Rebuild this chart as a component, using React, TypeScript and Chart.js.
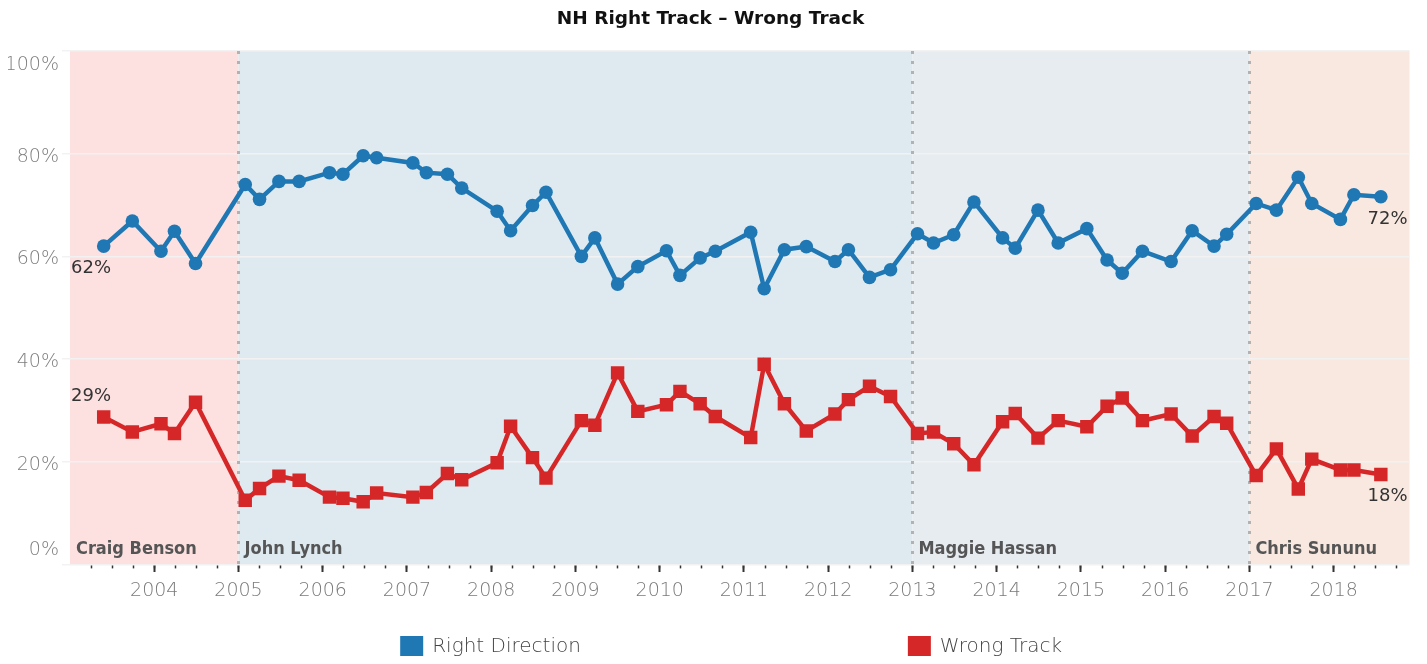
import React, { useEffect, useRef } from 'react';
import { Chart, registerables } from 'chart.js';

Chart.register(...registerables);

// ---- data ----
const pollDates = [
  2003.40, 2003.74, 2004.08, 2004.24, 2004.49,
  2005.08, 2005.25, 2005.48, 2005.72, 2006.08,
  2006.24, 2006.48, 2006.64, 2007.07, 2007.23,
  2007.48, 2007.65, 2008.07, 2008.23, 2008.49,
  2008.65, 2009.07, 2009.23, 2009.50, 2009.74,
  2010.08, 2010.24, 2010.48, 2010.66, 2011.08,
  2011.24, 2011.48, 2011.74, 2012.08, 2012.24,
  2012.49, 2012.74, 2013.06, 2013.25, 2013.49,
  2013.73, 2014.07, 2014.22, 2014.49, 2014.73,
  2015.07, 2015.31, 2015.49, 2015.73, 2016.07,
  2016.32, 2016.58, 2016.73, 2017.08, 2017.32,
  2017.58, 2017.74, 2018.08, 2018.24, 2018.56,
];

const rightDirection = [
  62.0, 66.9, 61.0, 64.9, 58.6,
  74.0, 71.1, 74.6, 74.6, 76.3,
  76.0, 79.6, 79.2, 78.2, 76.3,
  76.0, 73.3, 68.8, 65.0, 69.9,
  72.5, 60.0, 63.6, 54.6, 58.0,
  61.1, 56.3, 59.7, 61.0, 64.7,
  53.7, 61.3, 61.9, 59.0, 61.3,
  55.9, 57.4, 64.4, 62.6, 64.2,
  70.6, 63.6, 61.6, 69.0, 62.6,
  65.4, 59.3, 56.7, 61.0, 59.0,
  65.0, 62.0, 64.3, 70.3, 69.0,
  75.4, 70.3, 67.2, 72.0, 71.6,
];

const wrongTrack = [
  28.7, 25.8, 27.4, 25.5, 31.6,
  12.5, 14.8, 17.2, 16.4, 13.1,
  12.9, 12.2, 13.9, 13.1, 14.0,
  17.7, 16.5, 19.8, 26.9, 20.8,
  16.8, 28.0, 27.1, 37.3, 29.8,
  31.1, 33.7, 31.3, 28.8, 24.7,
  39.0, 31.3, 26.0, 29.3, 32.1,
  34.7, 32.7, 25.5, 25.8, 23.5,
  19.4, 27.8, 29.4, 24.6, 28.0,
  26.8, 30.8, 32.4, 28.0, 29.3,
  25.0, 28.8, 27.5, 17.3, 22.5,
  14.7, 20.5, 18.4, 18.4, 17.5,
];

const yearTicks = [2004, 2005, 2006, 2007, 2008, 2009, 2010, 2011, 2012, 2013, 2014, 2015, 2016, 2017, 2018];
const percentTicks = [0, 20, 40, 60, 80, 100];

const governors = ['Craig Benson', 'John Lynch', 'Maggie Hassan', 'Chris Sununu'];
const governorStarts = [2003, 2005, 2013, 2017];

const seriesNames = ['Right Direction', 'Wrong Track'];

// ---- styles ----
const BLUE = '#1f77b4';
const RED = '#d62728';
const bandColors = ['#fde1e1', '#deeaf0', '#e7ecf0', '#f9e8e0'];
const X_MIN = 2003;
const X_MAX = 2018.9;

const isYear = (v: number) => Math.abs(v - Math.round(v)) < 1e-6 && yearTicks.includes(Math.round(v));

const governorPlugin = {
  id: 'governorBands',
  beforeDraw(chart: any) {
    const { ctx, chartArea, scales } = chart;
    const x = scales.x;
    ctx.save();
    for (let i = 0; i < governors.length; i++) {
      const x0 = x.getPixelForValue(Math.max(governorStarts[i], x.min));
      const x1 = i < governors.length - 1 ? x.getPixelForValue(governorStarts[i + 1]) : chartArea.right;
      ctx.fillStyle = bandColors[i];
      ctx.fillRect(x0, chartArea.top, x1 - x0, chartArea.bottom - chartArea.top);
    }
    ctx.restore();
    // nudge the edge labels of the value axis inward, as in the reference
    const items = scales.y.getLabelItems();
    items.forEach((it: any) => {
      if (it.__shifted) return;
      it.__shifted = true;
      if (it.label === '100%') it.options.translation[1] += 11;
      if (it.label === '0%') it.options.translation[1] -= 17;
    });
  },
  beforeDatasetsDraw(chart: any) {
    const { ctx, chartArea, scales } = chart;
    const x = scales.x;
    ctx.save();
    ctx.strokeStyle = '#b2b2b2';
    ctx.lineWidth = 3;
    ctx.setLineDash([3, 7]);
    for (let i = 1; i < governors.length; i++) {
      const px = Math.round(x.getPixelForValue(governorStarts[i])) + 0.5;
      ctx.beginPath();
      ctx.moveTo(px, chartArea.top);
      ctx.lineTo(px, chartArea.bottom);
      ctx.stroke();
    }
    ctx.setLineDash([]);
    ctx.fillStyle = '#555555';
    ctx.font = 'bold 18px "DejaVu Sans Condensed", "DejaVu Sans", sans-serif';
    ctx.textAlign = 'left';
    ctx.textBaseline = 'middle';
    for (let i = 0; i < governors.length; i++) {
      const px = x.getPixelForValue(Math.max(governorStarts[i], x.min));
      ctx.fillText(governors[i], px + 6, chartArea.bottom - 15);
    }
    ctx.restore();
  },
  afterDatasetsDraw(chart: any) {
    const { ctx, chartArea } = chart;
    ctx.save();
    ctx.fillStyle = '#333333';
    ctx.font = '18px "DejaVu Sans", sans-serif';
    ctx.textBaseline = 'middle';
    const blue = chart.getDatasetMeta(0).data;
    const red = chart.getDatasetMeta(1).data;
    const last = pollDates.length - 1;
    ctx.textAlign = 'left';
    ctx.fillText(Math.round(rightDirection[0]) + '%', chartArea.left + 1, blue[0].y + 22);
    ctx.fillText(Math.round(wrongTrack[0]) + '%', chartArea.left + 1, red[0].y - 21);
    ctx.textAlign = 'right';
    ctx.fillText(Math.round(rightDirection[last]) + '%', chartArea.right - 2, blue[last].y + 23);
    ctx.fillText(Math.round(wrongTrack[last]) + '%', chartArea.right - 2, red[last].y + 22);
    ctx.restore();
  },
  afterDraw(chart: any) {
    const { ctx, chartArea } = chart;
    const w = chartArea.right - chartArea.left;
    const fractions = [0.2465, 0.6255];
    const cy = chart.height - 9;
    ctx.save();
    ctx.font = '200 20px "DejaVu Sans", sans-serif';
    ctx.textAlign = 'left';
    ctx.textBaseline = 'middle';
    chart.data.datasets.forEach((ds: any, i: number) => {
      const bx = chartArea.left + w * fractions[i];
      ctx.fillStyle = ds.borderColor;
      ctx.fillRect(bx, cy - 11, 23, 22);
      ctx.fillStyle = '#444444';
      ctx.fillText(ds.label, bx + 32, cy);
    });
    ctx.restore();
  },
};

export default function App() {
  const ref = useRef<HTMLCanvasElement>(null);

  useEffect(() => {
    const canvas = ref.current;
    if (!canvas) return;
    const chart = new Chart(canvas, {
      type: 'line',
      data: {
        datasets: [
          {
            label: seriesNames[0],
            data: pollDates.map((d, i) => ({ x: d, y: rightDirection[i] })),
            borderColor: BLUE,
            backgroundColor: BLUE,
            borderWidth: 4.5,
            pointRadius: 6.8,
            pointBorderWidth: 0,
            pointStyle: 'circle',
            tension: 0,
          },
          {
            label: seriesNames[1],
            data: pollDates.map((d, i) => ({ x: d, y: wrongTrack[i] })),
            borderColor: RED,
            backgroundColor: RED,
            borderWidth: 4.5,
            pointRadius: 9.5,
            pointBorderWidth: 0,
            pointStyle: 'rect',
            tension: 0,
          },
        ],
      },
      options: {
        responsive: false,
        animation: false,
        devicePixelRatio: 1,
        layout: { padding: { left: 0, right: 6, top: 0, bottom: 41.6 } },
        plugins: {
          legend: { display: false },
          tooltip: { enabled: false },
          title: {
            display: true,
            text: 'NH Right Track \u2013 Wrong Track',
            color: '#111111',
            font: { family: 'DejaVu Sans', size: 18.5, weight: 'bold' },
            padding: { top: 0, bottom: 20.8 },
          },
        },
        scales: {
          x: {
            type: 'linear',
            position: 'bottom',
            min: X_MIN,
            max: X_MAX,
            afterBuildTicks: (axis: any) => {
              axis.ticks = axis.ticks.filter(
                (t: any) => t.value > X_MIN + 0.01 && Math.abs(t.value * 4 - Math.round(t.value * 4)) < 1e-6
              );
            },
            ticks: {
              stepSize: 0.25,
              includeBounds: false,
              autoSkip: false,
              maxRotation: 0,
              minRotation: 0,
              padding: 11.6,
              color: '#7a7a7a',
              font: { family: 'DejaVu Sans', size: 19, weight: '200' },
              callback: (v: any) => (isYear(Number(v)) ? String(Math.round(Number(v))) : ''),
            },
            grid: {
              display: true,
              drawOnChartArea: false,
              drawTicks: true,
              tickLength: 4,
              tickColor: '#333333',
              tickWidth: 1.5,
            },
            border: { display: false },
          },
          xYear: {
            type: 'linear',
            axis: 'x',
            position: { y: 0 },
            min: X_MIN,
            max: X_MAX,
            afterBuildTicks: (axis: any) => {
              axis.ticks = yearTicks.map((v) => ({ value: v }));
            },
            ticks: { display: false },
            grid: {
              display: true,
              drawOnChartArea: false,
              drawTicks: true,
              tickLength: 8,
              tickColor: '#333333',
              tickWidth: 2,
            },
            border: { display: false },
          },
          y: {
            type: 'linear',
            min: 0,
            max: 100,
            afterFit: (axis: any) => {
              axis.width = 62;
            },
            afterBuildTicks: (axis: any) => {
              axis.ticks = percentTicks.map((v) => ({ value: v }));
            },
            ticks: {
              stepSize: 20,
              padding: 3,
              labelOffset: 3,
              color: '#7f7f7f',
              font: { family: 'DejaVu Sans', size: 19, weight: '200' },
              callback: (v: any) => v + '%',
            },
            grid: {
              color: '#f2f2f2',
              lineWidth: 1.5,
              drawTicks: true,
              tickLength: 8,
            },
            border: { display: false },
          },
        },
      } as any,
      plugins: [governorPlugin],
    });
    return () => chart.destroy();
  }, []);

  return (
    <canvas
      ref={ref}
      width={1411}
      height={648}
      style={{ display: 'block', width: 1411, height: 648 }}
    />
  );
}
